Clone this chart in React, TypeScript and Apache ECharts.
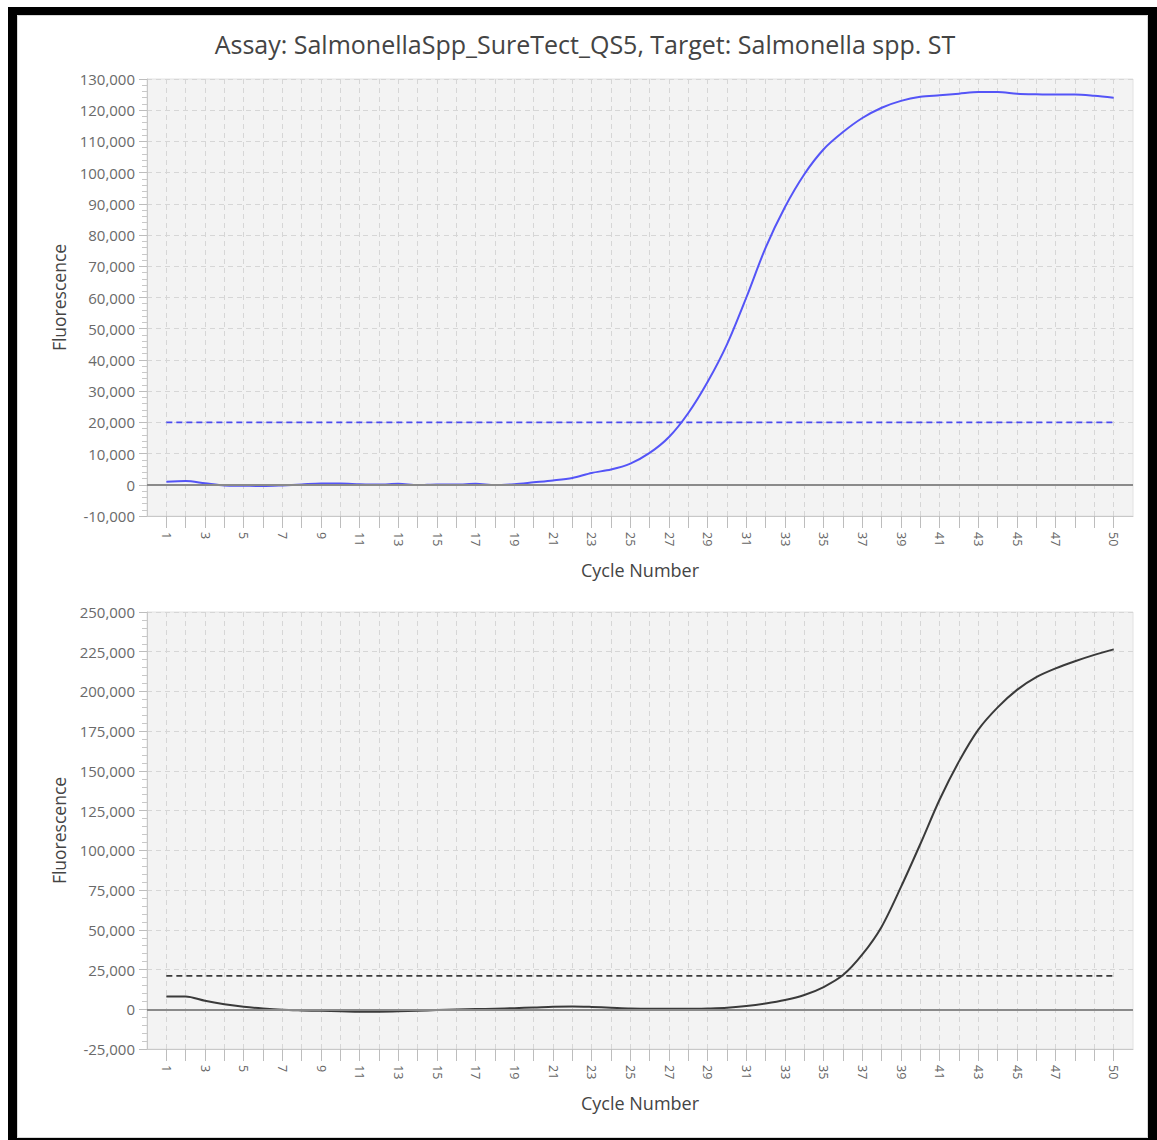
import React, { useEffect, useRef } from "react";
import * as echarts from "echarts";

const cycles = [
  1, 2, 3, 4, 5, 6, 7, 8, 9, 10, 11, 12, 13, 14, 15, 16, 17, 18, 19, 20, 21, 22, 23, 24, 25,
  26, 27, 28, 29, 30, 31, 32, 33, 34, 35, 36, 37, 38, 39, 40, 41, 42, 43, 44, 45, 46, 47, 48, 49, 50,
];
const xTickLabels = [1, 3, 5, 7, 9, 11, 13, 15, 17, 19, 21, 23, 25, 27, 29, 31, 33, 35, 37, 39, 41, 43, 45, 47, 50];

const topFluorescence = [
  1000, 1200, 500, -200, -300, -400, -200, 100, 400, 400, 200, 100, 300, -100, 100, 100, 300, -100, 200, 800,
  1400, 2200, 3800, 4900, 6800, 10200, 15300, 23000, 33000, 45000, 60000, 76000, 89000, 99500, 107500, 113000,
  117500, 120800, 123000, 124300, 124800, 125300, 125800, 125800, 125300, 125100, 125000, 125000, 124600, 124000,
];
const bottomFluorescence = [
  8000, 8000, 5300, 3200, 1600, 500, -300, -700, -1000, -1200, -1500, -1500, -1300, -900, -500, -200, 100, 400, 700,
  1100, 1600, 1800, 1500, 1000, 500, 300, 300, 300, 500, 900, 2000, 3600, 5800, 9000, 14000, 21500, 34500, 52000,
  77000, 104000, 132000, 156000, 176000, 190000, 201000, 209000, 214500, 219000, 223000, 226500,
];
const topThreshold = 20000;
const bottomThreshold = 21000;

const titleText = "Assay: SalmonellaSpp_SureTect_QS5, Target: Salmonella spp. ST";
const FONT = "Open Sans";

export default function App() {
  const ref = useRef<HTMLDivElement>(null);
  useEffect(() => {
    if (!ref.current) return;
    const chart = echarts.init(ref.current, null, { renderer: "svg" });

    const gridBase = { left: 147, width: 986, height: 437, show: true, backgroundColor: "#f3f3f3", borderColor: "#e2e2e2", borderWidth: 1 };
    const xAxisBase = (gi: number) => ({
      type: "value",
      gridIndex: gi,
      min: 0,
      max: 51,
      interval: 1,
      name: "Cycle Number",
      nameLocation: "middle",
      nameGap: 45,
      nameTextStyle: { fontFamily: FONT, fontSize: 18, color: "#444" },
      axisLine: { show: true, onZero: false, lineStyle: { color: "#c8c8c8", width: 1 } },
      axisTick: { show: true, length: 12, customValues: cycles, lineStyle: { color: "#bdbdbd" } },
      axisLabel: {
        customValues: xTickLabels,
        rotate: -90,
        margin: 16,
        fontFamily: FONT,
        fontSize: 12.5,
        color: "#666",
      },
      splitLine: { show: true, lineStyle: { color: "#d6d6d6", type: [5, 4], width: 1 } },
    });
    const yAxisBase = (gi: number, min: number, max: number, interval: number) => ({
      type: "value",
      gridIndex: gi,
      min,
      max,
      interval,
      name: "Fluorescence",
      nameLocation: "middle",
      nameRotate: 90,
      nameGap: 79,
      nameTextStyle: { fontFamily: FONT, fontSize: 17.5, color: "#444" },
      axisLine: { show: true, lineStyle: { color: "#c8c8c8", width: 1 } },
      axisTick: { show: true, length: 8, lineStyle: { color: "#bdbdbd" } },
      minorTick: { show: true, splitNumber: 5, length: 5, lineStyle: { color: "#c8c8c8" } },
      axisLabel: {
        margin: 12,
        fontFamily: FONT,
        fontSize: 15,
        color: "#6a6a6a",
        formatter: (v: number) => v.toLocaleString("en-US"),
      },
      splitLine: { show: true, lineStyle: { color: "#d6d6d6", type: [5, 4], width: 1 } },
    });

    const zeroLine = {
      silent: true,
      symbol: ["none", "none"],
      label: { show: false },
      lineStyle: { color: "#8a8a8a", width: 2, type: "solid" },
      data: [{ yAxis: 0 }],
    };

    chart.setOption({
      animation: false,
      backgroundColor: "#ffffff",
      textStyle: { fontFamily: FONT },
      grid: [
        { ...gridBase, top: 79 },
        { ...gridBase, top: 612 },
      ],
      xAxis: [xAxisBase(0), xAxisBase(1)],
      yAxis: [yAxisBase(0, -10000, 130000, 10000), yAxisBase(1, -25000, 250000, 25000)],
      series: [
        {
          type: "line",
          xAxisIndex: 0,
          yAxisIndex: 0,
          data: [
            [cycles[0], topThreshold],
            [cycles[cycles.length - 1], topThreshold],
          ],
          symbol: "none",
          lineStyle: { color: "#4a4af0", width: 1.6, type: [6, 4] },
          z: 3,
        },
        {
          type: "line",
          xAxisIndex: 0,
          yAxisIndex: 0,
          data: cycles.map((c, i) => [c, topFluorescence[i]]),
          symbol: "none",
          smooth: 0.3,
          lineStyle: { color: "#5454f7", width: 2 },
          markLine: zeroLine,
          z: 4,
        },
        {
          type: "line",
          xAxisIndex: 1,
          yAxisIndex: 1,
          data: [
            [cycles[0], bottomThreshold],
            [cycles[cycles.length - 1], bottomThreshold],
          ],
          symbol: "none",
          lineStyle: { color: "#3a3a3a", width: 1.6, type: [6, 4] },
          z: 3,
        },
        {
          type: "line",
          xAxisIndex: 1,
          yAxisIndex: 1,
          data: cycles.map((c, i) => [c, bottomFluorescence[i]]),
          symbol: "none",
          smooth: 0.3,
          lineStyle: { color: "#3a3a3a", width: 2 },
          markLine: zeroLine,
          z: 4,
        },
      ],
      graphic: [
        {
          type: "text",
          x: 585,
          y: 44,
          style: {
            text: titleText,
            fontFamily: FONT,
            fontSize: 25,
            fill: "#444",
            textAlign: "center",
            textVerticalAlign: "middle",
          },
        },
        { type: "rect", shape: { x: 17.5, y: 15.5, width: 1130, height: 1122 }, style: { fill: "none", stroke: "#d8d8d8", lineWidth: 1 } },
        { type: "rect", shape: { x: 8, y: 7, width: 9, height: 1133 }, style: { fill: "#000" } },
        { type: "rect", shape: { x: 8, y: 7, width: 1149, height: 8 }, style: { fill: "#000" } },
        { type: "rect", shape: { x: 1148, y: 7, width: 9, height: 1133 }, style: { fill: "#000" } },
        { type: "rect", shape: { x: 8, y: 1138, width: 1149, height: 2 }, style: { fill: "#000" } },
      ],
    });
    return () => chart.dispose();
  }, []);
  return <div ref={ref} style={{ position: "absolute", left: 0, top: 0, width: 1157, height: 1140 }} />;
}
